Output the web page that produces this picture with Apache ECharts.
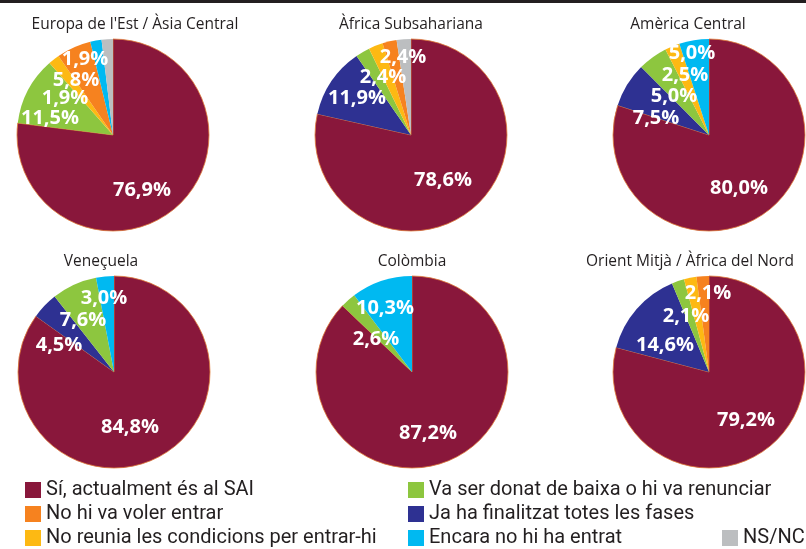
<!DOCTYPE html>
<html>
<head>
<meta charset="utf-8">
<script src="https://cdn.jsdelivr.net/npm/echarts@6/dist/echarts.min.js"></script>
<style>
  html, body { margin: 0; padding: 0; background: #fff; }
  #chart { width: 806px; height: 549px; }
</style>
</head>
<body>
<div id="chart"></div>
<script>
// categories in the order the slices run clockwise from 12 o'clock
const categories = [
  "Sí, actualment és al SAI",
  "Ja ha finalitzat totes les fases",
  "Va ser donat de baixa o hi va renunciar",
  "No reunia les condicions per entrar-hi",
  "No hi va voler entrar",
  "Encara no hi ha entrat",
  "NS/NC"
];
const regions = [
  "Europa de l'Est / Àsia Central",
  "Àfrica Subsahariana",
  "Amèrica Central",
  "Veneçuela",
  "Colòmbia",
  "Orient Mitjà / Àfrica del Nord"
];
// percentages, same order as categories
const europa    = [76.9, 0,    11.5, 1.9, 5.8, 1.9,  1.9];
const africa    = [78.6, 11.9, 2.4,  2.4, 2.4, 0,    2.4];
const america   = [80.0, 7.5,  5.0,  2.5, 0,   5.0,  0];
const venezuela = [84.8, 4.5,  7.6,  0,   0,   3.0,  0];
const colombia  = [87.2, 0,    2.6,  0,   0,   10.3, 0];
const orient    = [79.2, 14.6, 2.1,  2.1, 2.1, 0,    0];
const values = [europa, africa, america, venezuela, colombia, orient];

// legend columns
const legendCol1 = [categories[0], categories[4], categories[3]];
const legendCol2 = [categories[2], categories[1], categories[5]];
const legendCol3 = [categories[6]];

// ---- styles ----
const colors = ["#89173b", "#2e3192", "#8dc63f", "#fdb913", "#f6821f", "#00b9f1", "#bcbec0"];
const pieCenters = [[113, 135], [411, 135], [709, 135], [114, 372], [412, 372], [709, 372]];
const pieRadius = 96;
const titlePos = [[135, 25], [411, 25], [688, 25], [101, 262], [412, 262], [690, 262]];
// label offsets from pie centre, keyed by category index (no entry = no label)
const labelPos = [
  {0: [29, 55], 2: [-63, -17], 3: [-48, -37], 4: [-37, -55], 5: [-28, -76]},
  {0: [32, 45], 1: [-54, -37], 2: [-28, -58], 3: [-8, -78]},
  {0: [30, 53], 1: [-53, -17], 2: [-35, -39], 3: [-24, -60], 5: [-17, -82]},
  {0: [16, 55], 1: [-55, -27], 2: [-31, -52], 5: [-10, -74]},
  {0: [16, 61], 2: [-36, -33], 5: [-27, -64]},
  {0: [37, 48], 1: [-44, -27], 2: [-23, -56], 3: [-1, -79]}
];

function fmt(v) {
  return v.toFixed(1).replace('.', ',') + '%';
}

let myChart = echarts.init(document.getElementById('chart'));

let series = regions.map(function (region, r) {
  let items = [];
  values[r].forEach(function (v, i) {
    if (v > 0) items.push({ v: v, i: i });
  });
  let c = pieCenters[r];
  return {
    name: region,
    type: 'pie',
    center: c,
    radius: pieRadius,
    startAngle: 90,
    clockwise: true,
    animation: false,
    silent: true,
    labelLine: { show: false },
    data: items.map(function (d) {
      return {
        name: categories[d.i],
        value: d.v,
        itemStyle: {
          color: colors[d.i],
          borderColor: d.i === 0 ? '#e07b39' : colors[d.i],
          borderWidth: d.i === 0 ? 0.8 : 0
        },
        label: {
          show: labelPos[r][d.i] !== undefined,
          position: 'inside',
          formatter: fmt(d.v),
          color: '#fff',
          fontFamily: 'Open Sans',
          fontWeight: 'bold',
          fontSize: 20
        }
      };
    }),
    labelLayout: function (params) {
      let p = labelPos[r][items[params.dataIndex].i];
      if (!p) return {};
      return { x: c[0] + p[0], y: c[1] + p[1], align: 'center', verticalAlign: 'middle' };
    }
  };
});

let legendText = {
  fontFamily: 'Roboto',
  fontSize: 20,
  color: '#231f20'
};
function makeLegend(data, left, top) {
  return {
    data: data,
    orient: 'vertical',
    left: left,
    top: top,
    icon: 'rect',
    itemWidth: 16,
    itemHeight: 16,
    itemGap: 4,
    padding: 0,
    selectedMode: false,
    itemStyle: { borderWidth: 0 },
    textStyle: legendText
  };
}

let graphics = [{
  type: 'rect',
  shape: { x: 0, y: 0, width: 806, height: 3 },
  style: { fill: '#231f20' }
}];
regions.forEach(function (region, r) {
  graphics.push({
    type: 'text',
    x: titlePos[r][0],
    y: titlePos[r][1],
    style: {
      text: region,
      align: 'center',
      verticalAlign: 'middle',
      font: '15.5px "Open Sans"',
      fill: '#231f20'
    }
  });
});

let option = {
  backgroundColor: '#fff',
  legend: [
    makeLegend(legendCol1, 25, 480),
    makeLegend(legendCol2, 408, 480),
    makeLegend(legendCol3, 722, 528)
  ],
  graphic: graphics,
  series: series
};

myChart.setOption(option);
window.addEventListener('resize', function () {
  myChart.resize();
});
</script>
</body>
</html>
